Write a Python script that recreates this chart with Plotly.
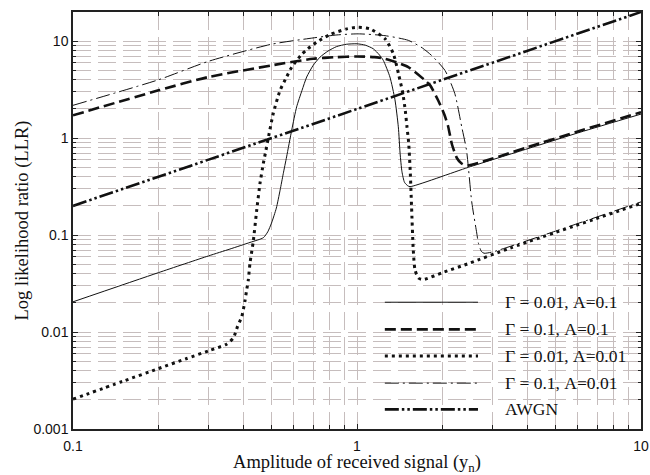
import plotly.graph_objects as go

# ---- data (log-log) ----
g001_a01_x = [0.1, 0.2, 0.3, 0.357, 0.42, 0.468, 0.485, 0.5, 0.52, 0.536, 0.55, 0.565, 0.589, 0.613,
              0.64, 0.665, 0.7, 0.741, 0.79, 0.848, 0.92, 1.0, 1.07, 1.141, 1.2, 1.238, 1.306,
              1.36, 1.398, 1.418, 1.44, 1.47, 1.51, 1.537, 2.466, 4.0, 6.1, 10.0]
g001_a01_y = [0.0205, 0.041, 0.061, 0.0718, 0.084, 0.094, 0.108, 0.133, 0.19, 0.29, 0.43, 0.64, 1.21, 2.1,
              3.1, 4.27, 5.6, 6.85, 7.9, 8.8, 9.3, 9.4, 9.1, 8.35, 7.2, 6.33, 4.27,
              2.5, 1.31, 0.7, 0.45, 0.35, 0.322, 0.316, 0.50, 0.78, 1.15, 1.77]

g01_a01_x = [0.1, 0.2, 0.3, 0.5, 0.7, 0.85, 1.0, 1.15, 1.255, 1.4, 1.516, 1.735, 1.81, 1.93,
             2.03, 2.09, 2.16, 2.25, 2.33, 2.43, 4.0, 6.1, 10.0]
g01_a01_y = [1.72, 3.11, 4.27, 5.63, 6.59, 6.85, 6.96, 6.85, 6.59, 5.95, 5.41, 3.95, 3.5, 2.46,
             1.75, 1.35, 0.86, 0.62, 0.55, 0.52, 0.81, 1.19, 1.85]

g001_a001_x = [0.1, 0.15, 0.2, 0.25, 0.3, 0.3475, 0.367, 0.38, 0.393, 0.403, 0.409, 0.414, 0.42,
               0.431, 0.4436, 0.4555, 0.468, 0.478, 0.487, 0.507, 0.536, 0.565, 0.589, 0.638,
               0.67, 0.721, 0.803, 0.92, 1.0, 1.11, 1.255, 1.343, 1.40, 1.45, 1.48, 1.50, 1.52,
               1.54, 1.556, 1.578, 1.6, 1.644, 1.71, 2.014, 2.5, 3.46, 10.0]
g001_a001_y = [0.00203, 0.00311, 0.0042, 0.0053, 0.0064, 0.0075, 0.0087, 0.0115, 0.0145, 0.0208, 0.0274, 0.034, 0.0515,
               0.085, 0.182, 0.342, 0.55, 0.75, 1.0, 1.79, 3.11, 4.27, 5.4, 7.3,
               8.3, 9.77, 11.7, 13.4, 13.9, 13.4, 10.6, 7.42, 4.6, 2.9, 1.9, 1.3, 0.9,
               0.45, 0.2, 0.0706, 0.044, 0.0361, 0.0348, 0.0413, 0.0515, 0.0735, 0.212]

g01_a001_x = [0.1, 0.2, 0.3, 0.5, 0.7, 0.85, 1.01, 1.255, 1.516, 1.7, 1.83, 2.04, 2.21, 2.337,
              2.43, 2.535, 2.64, 2.675, 2.74, 2.8, 3.0, 5.0, 10.0]
g01_a001_y = [2.18, 4.0, 6.2, 9.3, 10.8, 11.6, 11.9, 11.4, 10.2, 8.5, 7.13, 5.0, 2.88, 1.31,
              0.75, 0.22, 0.105, 0.083, 0.068, 0.065, 0.067, 0.11, 0.22]

awgn_x = [0.1, 1.0, 10.0]
awgn_y = [0.2, 2.0, 20.0]

x_ticks = [0.1, 1, 10]
x_ticktext = ["0.1", "1", "10"]
y_ticks = [0.001, 0.01, 0.1, 1, 10]
y_ticktext = ["0.001", "0.01", "0.1", "1", "10"]
x_minor = [m * d for d in (0.1, 1) for m in range(2, 10)]
y_minor = [m * d for d in (0.001, 0.01, 0.1, 1, 10) for m in range(2, 10)]

legend_labels = ["\u0393 = 0.01, A=0.1", "\u0393 = 0.1, A=0.1", "\u0393 = 0.01, A=0.01",
                 "\u0393 = 0.1, A=0.01", "AWGN"]

# ---- styles ----
INK = "#111111"
styles = [
    dict(width=1.0, dash="solid"),
    dict(width=2.6, dash="11px,5px"),
    dict(width=3.0, dash="3px,4px"),
    dict(width=1.0, dash="14px,4px,2px,4px"),
    dict(width=2.6, dash="14px,3px,2.5px,3px,2.5px,3px"),
]
series = [(g001_a01_x, g001_a01_y), (g01_a01_x, g01_a01_y), (g001_a001_x, g001_a001_y),
          (g01_a001_x, g01_a001_y), (awgn_x, awgn_y)]

fig = go.Figure()
for (xs, ys), st, name in zip(series, styles, legend_labels):
    fig.add_trace(go.Scatter(x=xs, y=ys, mode="lines", name=name, showlegend=False,
                             line=dict(color=INK, width=st["width"], dash=st["dash"],
                                       shape="spline", smoothing=0.6)))

# ---- hand-made legend (long line samples, like the reference) ----
leg_y = [0.304, 0.239, 0.175, 0.110, 0.047]
for st, yy, name in zip(styles, leg_y, legend_labels):
    fig.add_shape(type="line", xref="paper", yref="paper", x0=0.549, x1=0.713, y0=yy, y1=yy,
                  line=dict(color=INK, width=st["width"], dash=st["dash"]))
    fig.add_annotation(xref="paper", yref="paper", x=0.757, y=yy, text=name, showarrow=False,
                       xanchor="left", yanchor="middle",
                       font=dict(family="Liberation Serif, Times New Roman, serif", size=17.5, color=INK))

GRID = "#c6bdbd"
GDASH = "18px,7px"
axis_common = dict(
    type="log", automargin=False, showline=True, linecolor="#222222", linewidth=1.5, mirror="allticks",
    ticks="inside", ticklen=5, tickwidth=1, tickcolor="#222222", ticklabeloverflow="allow",
    showgrid=True, gridcolor=GRID, gridwidth=1, griddash=GDASH,
    tickfont=dict(family="Liberation Sans, Arial, sans-serif", size=14, color=INK),
    title_font=dict(family="Liberation Serif, Times New Roman, serif", size=18.5, color=INK),
)

fig.update_layout(
    template="none",
    width=650, height=475,
    margin=dict(l=73, r=9, t=12, b=46),
    paper_bgcolor="white", plot_bgcolor="white",
    xaxis=dict(range=[-1, 1], tickvals=x_ticks, ticktext=x_ticktext,
               title=dict(text="Amplitude of received signal (y<sub>n</sub>)", standoff=3),
               ticklabelstandoff=3,
               minor=dict(tickvals=x_minor, ticks="inside", ticklen=4, tickcolor="#222222",
                          showgrid=True, gridcolor=GRID, griddash=GDASH, gridwidth=1),
               **axis_common),
    yaxis=dict(range=[-3, 1.30103], tickvals=y_ticks, ticktext=y_ticktext,
               title=dict(text="Log likelihood ratio (LLR)", standoff=0),
               ticklabelstandoff=0,
               minor=dict(tickvals=y_minor, ticks="inside", ticklen=3, tickcolor="#222222",
                          showgrid=True, gridcolor=GRID, griddash=GDASH, gridwidth=1),
               **axis_common),
)

# remove the default 8px page margin so the 650x475 figure fills the window exactly
fig.write_html("out.html",
               config={"displayModeBar": False},
               post_script="document.body.style.margin='0';document.body.style.overflow='hidden';")
